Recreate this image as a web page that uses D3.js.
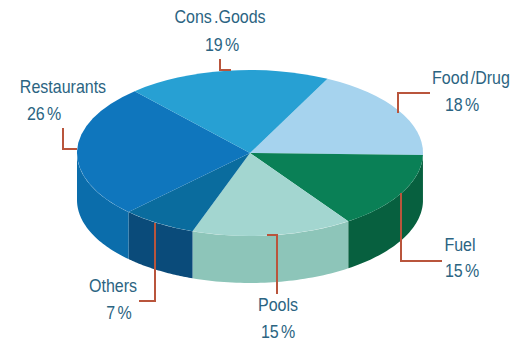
<!DOCTYPE html>
<html>
<head>
<meta charset="utf-8">
<script src="https://cdn.jsdelivr.net/npm/d3@7/dist/d3.min.js"></script>
<style>
html, body { margin: 0; padding: 0; background: #fff; }
svg { display: block; }
text { font-family: "Liberation Sans", Arial, sans-serif; font-size: 18px; fill: #2b6482; word-spacing: -2.5px; text-anchor: middle; }
</style>
</head>
<body>
<script>
// Revenue share by segment, clockwise from the Food/Drug slice
const categories = ["Food/Drug", "Fuel", "Pools", "Others", "Restaurants", "Cons.Goods"];
const shares = [18, 15, 15, 7, 26, 19];
const nameLabels = ["Food /Drug", "Fuel", "Pools", "Others", "Restaurants", "Cons .Goods"];

const topColors = ["#a6d3ee", "#0a8056", "#a3d6d0", "#0a6c9e", "#0f76bd", "#27a0d3"];
const wallColors = ["#8fbfdc", "#07603f", "#8dc5b9", "#0a4b7a", "#0b6dab", "#1c85b5"];

// Pie geometry
const width = 525, height = 341;
const cx = 250, cy = 153, rx = 173, ry = 83, depth = 47;
const firstAngle = 26.6 * Math.PI / 180;
const textSqueeze = 0.89;

// Callout layout, in the same order as the categories
const nameAnchors = [[471, 84], [460, 251], [278, 311], [113, 292], [63, 93], [220, 23]];
const valueAnchors = [[462, 111], [462, 277], [278, 338], [119, 319], [44, 120], [222, 51]];
const leaders = [
  [[398, 113], [398, 93], [430, 93]],
  [[401, 193], [401, 261], [442, 261]],
  [[267, 235], [277, 235], [277, 294]],
  [[155, 223], [155, 301], [139, 301]],
  [[63, 128], [63, 149], [77, 149]],
  [[220, 59], [220, 70], [231, 70]]
];

const svg = d3.select("body").append("svg").attr("width", width).attr("height", height);

const pie = d3.pie().sort(null).value(d => d)
  .startAngle(firstAngle).endAngle(firstAngle + 2 * Math.PI);
const slices = pie(shares);

const px = a => cx + rx * Math.sin(a);
const py = a => cy - ry * Math.cos(a);

// Side walls: only the front half of the rim (90 to 270 degrees) is visible
const frontStart = Math.PI / 2, frontEnd = 3 * Math.PI / 2;
const rim = d3.line();
const wallPath = s => {
  const a0 = Math.max(s.startAngle, frontStart), a1 = Math.min(s.endAngle, frontEnd);
  if (a1 <= a0) return null;
  const steps = d3.range(0, 41).map(i => a0 + (a1 - a0) * i / 40);
  const upper = steps.map(a => [px(a), py(a)]);
  const lower = steps.slice().reverse().map(a => [px(a), py(a) + depth]);
  return rim(upper.concat(lower)) + "Z";
};

svg.append("g").selectAll("path")
  .data(slices)
  .join("path")
  .attr("d", wallPath)
  .attr("fill", (d, i) => wallColors[i]);

// Top face: a flat pie squashed into an ellipse
const arc = d3.arc().innerRadius(0).outerRadius(rx);
svg.append("g")
  .attr("transform", `translate(${cx},${cy}) scale(1,${ry / rx})`)
  .selectAll("path")
  .data(slices)
  .join("path")
  .attr("d", arc)
  .attr("fill", (d, i) => topColors[i]);

// Leader lines from each slice to its label
svg.append("g").selectAll("path")
  .data(leaders)
  .join("path")
  .attr("d", d3.line())
  .attr("fill", "none")
  .attr("stroke", "#b9553c")
  .attr("stroke-width", 2);

// Two-line labels: segment name, then its share, set slightly condensed
const place = ([x, y]) => `translate(${x},${y}) scale(${textSqueeze},1)`;
svg.append("g").selectAll("text")
  .data(categories)
  .join("text")
  .attr("transform", (d, i) => place(nameAnchors[i]))
  .text((d, i) => nameLabels[i]);
svg.append("g").selectAll("text")
  .data(categories)
  .join("text")
  .attr("transform", (d, i) => place(valueAnchors[i]))
  .text((d, i) => `${shares[i]} %`);
</script>
</body>
</html>
